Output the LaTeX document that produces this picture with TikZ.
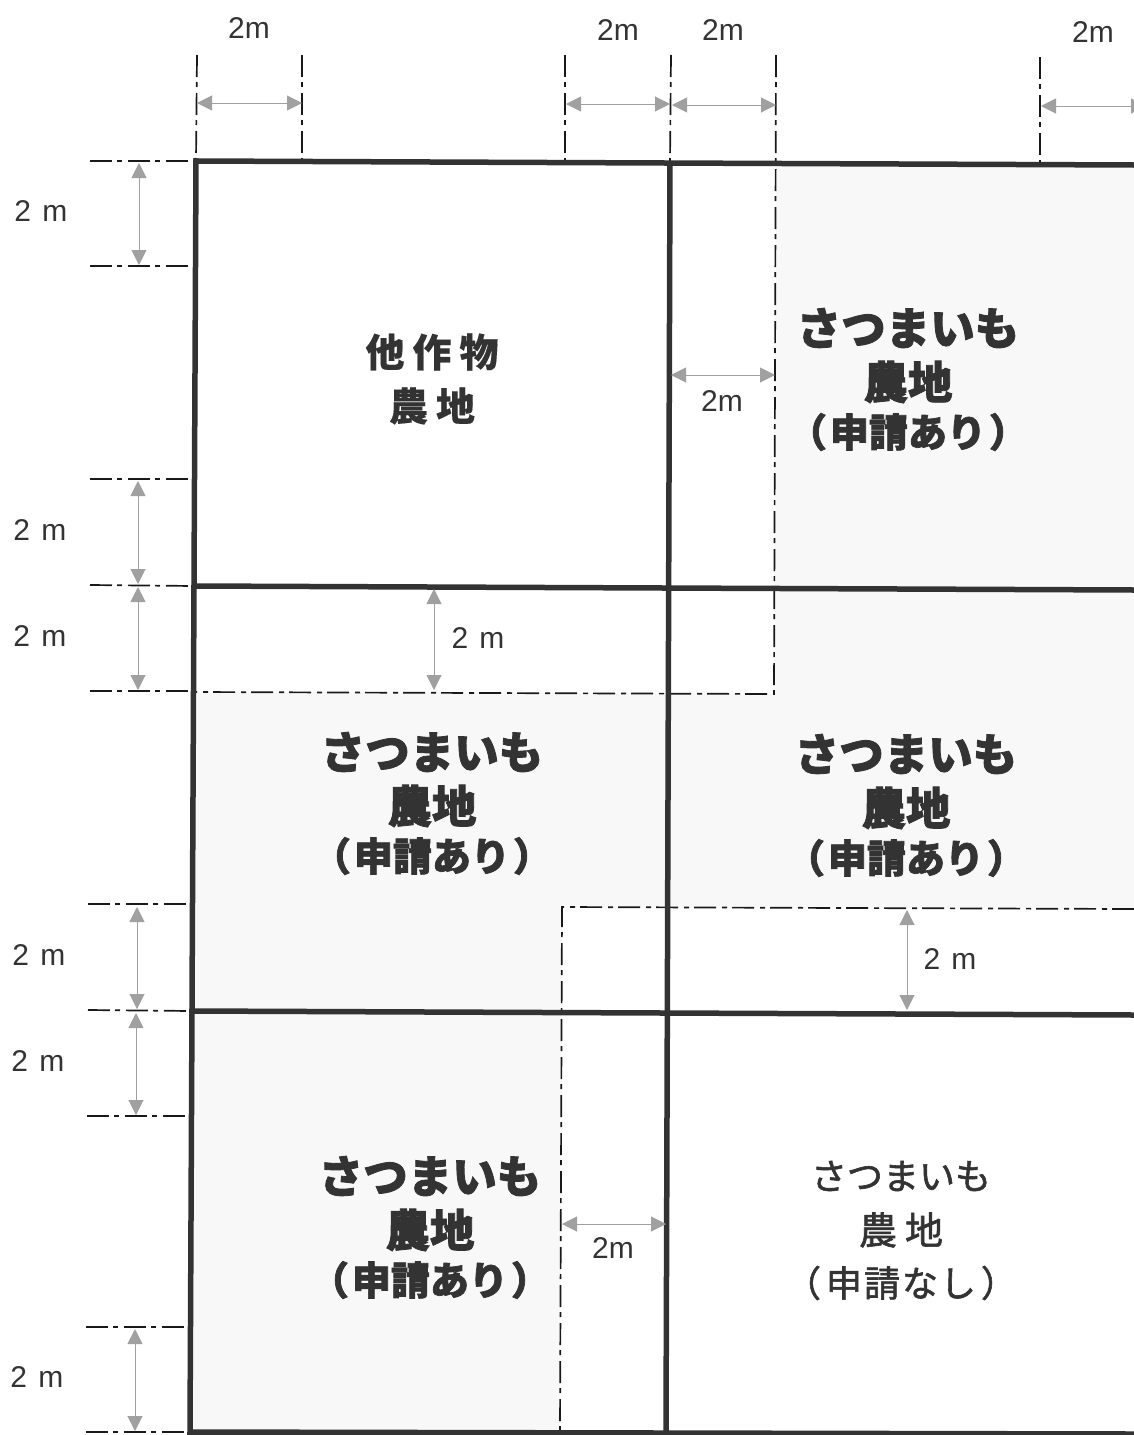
\documentclass[tikz,border=0pt]{standalone}
\usepackage{fontspec}
\setmainfont{Liberation Sans}
\newfontfamily\cjkbold[BoldFeatures={FakeBold=1.8}]{Noto Sans CJK JP}
\newfontfamily\cjkmed[BoldFeatures={FakeBold=0.3}]{Noto Sans CJK JP}
\newfontfamily\cjkreg[FakeBold=1.6]{Noto Sans CJK JP}
\usetikzlibrary{arrows.meta}
\definecolor{inkdark}{HTML}{333333}
\definecolor{dimgrey}{HTML}{A0A0A0}
\definecolor{tint}{HTML}{F8F8F8}
\tikzset{
  x=1pt,y=-1pt,
  plotline/.style={draw=inkdark,line width=5.5pt},
  chain/.style={draw=black!90,line width=1.7pt,dash pattern=on 22pt off 5pt on 5pt off 6pt},
  dimarrow/.style={draw=dimgrey,line width=1pt,{Triangle[length=15pt,width=15pt,fill=dimgrey]}-{Triangle[length=15pt,width=15pt,fill=dimgrey]}},
  dimlabel/.style={font=\fontsize{30}{30}\selectfont,text=black!80,inner sep=0pt},
  crophead/.style={font=\fontsize{44.5}{44}\selectfont\cjkbold\bfseries,text=inkdark,inner sep=0pt},
  cropsub/.style={font=\fontsize{39}{39}\selectfont\cjkbold\bfseries,text=inkdark,inner sep=0pt},
  otherhead/.style={font=\fontsize{39}{39}\selectfont\cjkmed\bfseries,text=inkdark,inner sep=0pt},
  plainhead/.style={font=\fontsize{36}{36}\selectfont\cjkreg,text=inkdark,inner sep=0pt},
}
\newcommand{\cropblock}[3]{%
  \node[crophead] (#3a) at (#1,#2-54) {さつまいも};
  \node[crophead] (#3b) at (#1,#2) {農地};
  \node[cropsub] (#3c) at (#1,#2+50) {（\hspace{3pt}申請あり\hspace{3pt}）};
}
\begin{document}
\begin{tikzpicture}
\useasboundingbox (0,0) rectangle (1134,1435);
\clip (0,0) rectangle (1134,1435);
\fill[white] (0,0) rectangle (1134,1435);
% tinted ground
\fill[tint] (776,165) -- (774,694) -- (194,692) -- (190,1432) -- (560,1432) -- (562,907) -- (1134,909) -- (1134,165) -- cycle;
% named corners
\coordinate (tl) at (196,161); \coordinate (tr) at (1134,165);
\coordinate (m1l) at (194,586); \coordinate (m1r) at (1134,590);
\coordinate (m2l) at (192,1011); \coordinate (m2r) at (1134,1015);
\coordinate (bl) at (190,1432); \coordinate (br) at (1134,1434);
\coordinate (ct) at (670,162); \coordinate (cb) at (666,1433);
% chain lines
\draw[chain] (197,55) -- (tl);
\draw[chain] (302,55) -- (302,160);
\draw[chain] (565,55) -- (565,161);
\draw[chain] (671,55) -- (ct);
\draw[chain] (776,55) -- (774,694) -- (194,692);
\draw[chain] (1040,57) -- (1040,163);
\draw[chain] (1134,909) -- (562,907) -- (560,1432);
\draw[chain] (90,161) -- (tl);
\draw[chain] (90,266) -- (194,266);
\draw[chain] (90,479) -- (194,479);
\draw[chain] (90,585) -- (m1l);
\draw[chain] (90,691) -- (194,691);
\draw[chain] (88,904) -- (192,904);
\draw[chain] (88,1010) -- (m2l);
\draw[chain] (87,1116) -- (191,1116);
\draw[chain] (86,1327) -- (190,1327);
\draw[chain] (86,1432) -- (bl);
% main plot lines
\draw[plotline,line cap=rect] (tl) -- (tr);
\draw[plotline] (m1l) -- (m1r);
\draw[plotline] (m2l) -- (m2r);
\draw[plotline] (bl) -- (br);
\draw[plotline,line cap=rect] (tl) -- (bl);
\draw[plotline] (ct) -- (cb);
% dimension arrows
\draw[dimarrow] (197,103) -- (302,103);
\draw[dimarrow] (566,104) -- (670,104);
\draw[dimarrow] (672,105) -- (776,105);
\draw[dimarrow] (1041,106) -- (1146,106);
\draw[dimarrow] (139,163) -- (139,265);
\draw[dimarrow] (138,481) -- (138,584);
\draw[dimarrow] (138,587) -- (138,690);
\draw[dimarrow] (137,907) -- (137,1009);
\draw[dimarrow] (136,1013) -- (136,1115);
\draw[dimarrow] (135,1329) -- (135,1431);
\draw[dimarrow] (671,375) -- (775,375);
\draw[dimarrow] (434,589) -- (434,690);
\draw[dimarrow] (907,910) -- (907,1010);
\draw[dimarrow] (562,1224) -- (666,1224);
% dimension labels
\node[dimlabel] (d1) at (249,28) {2m};
\node[dimlabel] (d2) at (618,30) {2m};
\node[dimlabel] (d3) at (723,30) {2m};
\node[dimlabel] (d4) at (1093,32) {2m};
\node[dimlabel] (d5) at (722,401) {2m};
\node[dimlabel] (d6) at (613,1248) {2m};
\node[dimlabel] (s1) at (41,211) {2\hspace{3pt} m};
\node[dimlabel] (s2) at (40,530) {2\hspace{3pt} m};
\node[dimlabel] (s3) at (40,636) {2\hspace{3pt} m};
\node[dimlabel] (s4) at (39,955) {2\hspace{3pt} m};
\node[dimlabel] (s5) at (38,1061) {2\hspace{3pt} m};
\node[dimlabel] (s6) at (37,1377) {2\hspace{3pt} m};
\node[dimlabel] (s7) at (478,638) {2\hspace{3pt} m};
\node[dimlabel] (s8) at (950,959) {2\hspace{3pt} m};
% crop labels
\node[otherhead] (oa) at (432,352) {他\hspace{8pt}作\hspace{8pt}物};
\node[otherhead] (ob) at (432,406) {農\hspace{8pt}地};
\cropblock{908}{382}{r}
\cropblock{432}{806}{p}
\cropblock{906}{808}{q}
\cropblock{430}{1230}{u}
\node[plainhead] (va) at (901,1176) {さつまいも};
\node[plainhead,font=\fontsize{38}{38}\selectfont\cjkreg] (vb) at (901,1230) {農\hspace{8pt}地};
\node[plainhead] (vc) at (901,1283) {（\hspace{5pt}申\hspace{2pt}請\hspace{2pt}な\hspace{2pt}し\hspace{5pt}）};
\end{tikzpicture}
\end{document}
